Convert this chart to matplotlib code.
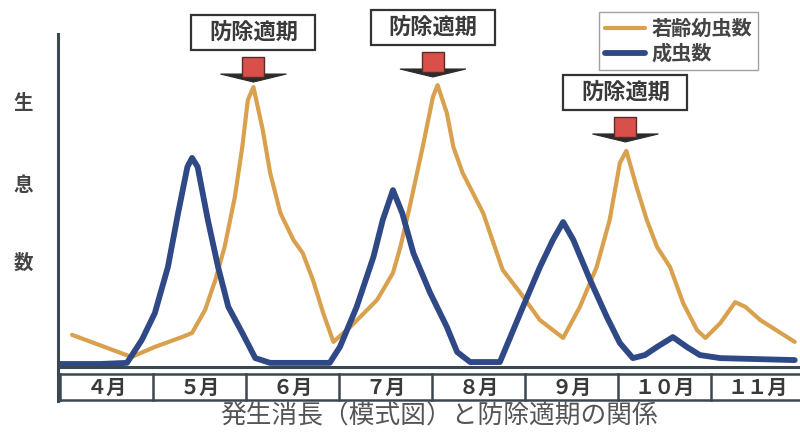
import matplotlib.pyplot as plt
from matplotlib.patches import Rectangle, Polygon

plt.rcParams['font.family'] = ['Noto Sans CJK JP', 'DejaVu Sans']

# 若齢幼虫数 (月, 生息数)
larva_month = [4.13, 4.77, 5.02, 5.31, 5.42, 5.56, 5.67, 5.77, 5.88, 5.96, 6.02, 6.08,
               6.18, 6.26, 6.37, 6.51, 6.61, 6.72, 6.83, 6.94, 7.12, 7.41, 7.58, 7.66,
               7.76, 7.90, 8.01, 8.06, 8.16, 8.23, 8.33, 8.55, 8.76, 8.95, 9.16, 9.41,
               9.59, 9.77, 9.91, 10.02, 10.09, 10.20, 10.31, 10.42, 10.56, 10.70, 10.85,
               10.94, 11.10, 11.26, 11.37, 11.53, 11.90]
larva_value = [10.4, 2.5, 6.1, 9.6, 11.1, 19.3, 30.0, 41.8, 59.6, 77.5, 94.3, 98.9,
               83.6, 68.2, 53.9, 44.3, 39.6, 30.0, 18.2, 7.9, 13.2, 22.9, 32.5, 41.8,
               56.1, 77.5, 95.4, 99.6, 89.6, 77.5, 68.2, 53.9, 33.6, 25.4, 15.7, 9.3,
               20.4, 34.6, 51.4, 71.8, 76.1, 63.2, 51.4, 41.8, 34.6, 21.8, 12.1,
               9.3, 14.6, 22.1, 20.4, 15.7, 7.9]

# 成虫数
adult_month = [4.00, 4.43, 4.72, 4.88, 5.02, 5.16, 5.27, 5.37, 5.42, 5.48, 5.59, 5.70,
               5.81, 5.96, 6.10, 6.26, 6.90, 7.01, 7.19, 7.37, 7.47, 7.58, 7.68, 7.80,
               7.98, 8.16, 8.27, 8.41, 8.73, 8.95, 9.16, 9.30, 9.41, 9.52, 9.70, 9.88,
               10.02, 10.16, 10.29, 10.42, 10.59, 10.74, 10.88, 11.10, 11.90]
adult_value = [0.0, 0.0, 0.4, 8.6, 18.2, 34.6, 53.9, 70.4, 73.6, 70.4, 51.4, 34.6,
               20.4, 11.1, 2.1, 0.4, 0.4, 6.1, 20.4, 38.2, 51.4, 62.1, 53.9, 39.6,
               25.4, 13.2, 4.3, 0.7, 0.7, 18.2, 34.6, 44.3, 50.7, 44.3, 30.0, 16.8,
               7.5, 2.1, 3.2, 6.1, 9.6, 6.1, 3.2, 2.1, 1.4]

months = ['４月', '５月', '６月', '７月', '８月', '９月', '１０月', '１１月']
month_start = 4

# 防除適期 (矢印の先端位置)
spray_month = [6.08, 8.01, 10.08]
spray_value = [100.7, 102.5, 79.3]

ORANGE = '#d9a04e'
BLUE = '#2f4886'
AXCOL = '#3b4850'
TXT = '#3a3a3a'

# 1か月 = 93px, 生息数1 = 2.8px
PX_X = 93.0
PX_Y = 2.8

fig = plt.figure(figsize=(8, 4.32), dpi=100)
ax = fig.add_axes([0, 0, 1, 1])
ax.axis('off')
ax.set_xlim(4 - 60 / PX_X, 4 + 740 / PX_X)
ax.set_ylim(-68 / PX_Y, 364 / PX_Y)

# 曲線
l1, = ax.plot(larva_month, larva_value, color=ORANGE, lw=3.0,
              solid_joinstyle='round', solid_capstyle='round', label='若齢幼虫数', zorder=3)
l2, = ax.plot(adult_month, adult_value, color=BLUE, lw=4.2,
              solid_joinstyle='round', solid_capstyle='round', label='成虫数', zorder=4)

# 軸
x_end = month_start + len(months)
ax.plot([3.98, 3.98], [-13.2, 117.9], color=AXCOL, lw=2.2, zorder=5)
ax.plot([3.98, x_end], [-1.2, -1.2], color=AXCOL, lw=2.2, zorder=5)
ax.plot([3.98, x_end], [-3.6, -3.6], color=AXCOL, lw=1.8, zorder=5)
ax.plot([3.98, x_end], [-12.9, -12.9], color=AXCOL, lw=1.8, zorder=5)
for i, lab in enumerate(months):
    m = month_start + i
    ax.plot([m, m], [-3.6, -12.9], color=AXCOL, lw=1.8, zorder=5)
    ax.text(m + 0.5, -8.3, lab, ha='center', va='center', fontsize=14.5,
            fontweight='bold', color=TXT)

# 縦軸ラベル
for ch, v in zip(['生', '息', '数'], [93.2, 63.9, 36.1]):
    ax.text(3.355 + 23 / PX_X, v, ch, ha='center', va='center', fontsize=14,
            fontweight='bold', color='#444444')

# 防除適期
for m, v in zip(spray_month, spray_value):
    head = Polygon([(m - 33 / PX_X, v + 8 / PX_Y), (m + 33 / PX_X, v + 8 / PX_Y), (m, v)],
                   closed=True, fc='#2b2b2b', ec='#2b2b2b', lw=0.8, zorder=6)
    ax.add_patch(head)
    shaft = Rectangle((m - 11 / PX_X, v + 5 / PX_Y), 22 / PX_X, 20 / PX_Y,
                      fc='#d9504a', ec='#5a2a2a', lw=1.0, zorder=7)
    ax.add_patch(shaft)
    bx = Rectangle((m - 62 / PX_X, v + 32 / PX_Y), 124 / PX_X, 35 / PX_Y,
                   fc='white', ec='#333333', lw=1.6, zorder=6)
    ax.add_patch(bx)
    ax.text(m, v + 49.5 / PX_Y, '防除適期', ha='center', va='center', fontsize=16,
            fontweight='bold', color=TXT, zorder=8)

# 凡例
leg = ax.legend(handles=[l1, l2], loc='upper left', bbox_to_anchor=(599 / 800, 1 - 12 / 432),
                borderaxespad=0, frameon=True, fancybox=False, edgecolor='#8a8a8a',
                handlelength=2.0, handletextpad=0.3, labelspacing=0.2, borderpad=0.3,
                prop={'size': 14.5, 'weight': 'bold'})
leg.get_frame().set_linewidth(1.0)
for t in leg.get_texts():
    t.set_color('#444444')

# タイトル
fig.text(439 / 800, 1 - 417 / 432, '発生消長（模式図）と防除適期の関係', ha='center', va='center',
         fontsize=18.5, color='#555555')

fig.savefig('out.png', dpi=100)
